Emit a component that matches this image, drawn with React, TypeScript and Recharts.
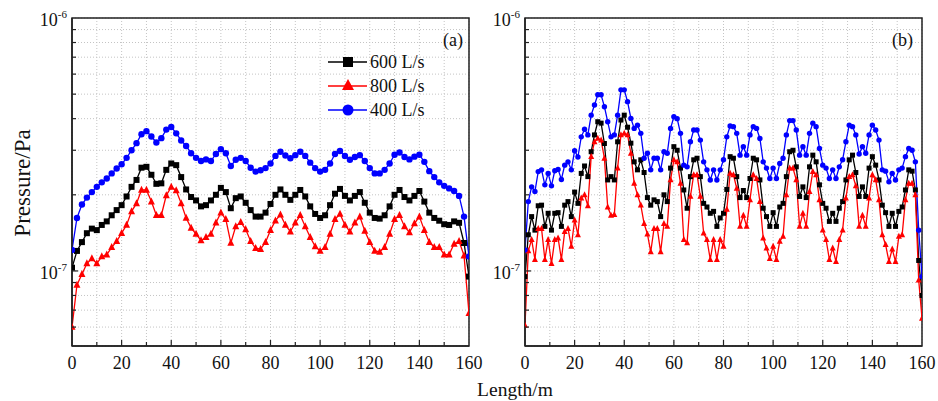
import React from 'react';
import { LineChart, Line, XAxis, YAxis, CartesianGrid, Legend, ReferenceArea } from 'recharts';

// pressure values are in units of 1e-7 Pa
const lengthA = [
  0, 2, 4, 6, 8, 10, 12, 14, 16, 18,
  20, 22, 24, 26, 28, 30, 32, 34, 36, 38,
  40, 42, 44, 46, 48, 50, 52, 54, 56, 58,
  60, 62, 64, 66, 68, 70, 72, 74, 76, 78,
  80, 82, 84, 86, 88, 90, 92, 94, 96, 98,
  100, 102, 104, 106, 108, 110, 112, 114, 116, 118,
  120, 122, 124, 126, 128, 130, 132, 134, 136, 138,
  140, 142, 144, 146, 148, 150, 152, 154, 156, 158,
  160,
];

const p400a = [
  1.21, 1.62, 1.83, 1.95, 2.05, 2.15, 2.24, 2.32, 2.43, 2.54,
  2.64, 2.80, 3.00, 3.20, 3.47, 3.57, 3.40, 3.22, 3.35, 3.62,
  3.71, 3.50, 3.28, 3.12, 2.92, 2.80, 2.72, 2.76, 2.72, 2.90,
  3.03, 2.92, 2.60, 2.75, 2.80, 2.72, 2.56, 2.47, 2.50, 2.55,
  2.66, 2.85, 2.96, 2.86, 2.79, 2.87, 2.96, 2.85, 2.68, 2.55,
  2.47, 2.51, 2.66, 2.90, 2.98, 2.85, 2.75, 2.82, 2.87, 2.72,
  2.55, 2.43, 2.43, 2.51, 2.66, 2.88, 2.94, 2.82, 2.76, 2.83,
  2.88, 2.70, 2.48, 2.35, 2.24, 2.17, 2.12, 2.07, 1.98, 1.64,
  1.14,
];

const p600a = [
  1.03, 1.20, 1.30, 1.41, 1.47, 1.45, 1.52, 1.57, 1.66, 1.74,
  1.82, 1.97, 2.15, 2.29, 2.56, 2.58, 2.40, 2.21, 2.22, 2.51,
  2.66, 2.62, 2.35, 2.10, 1.96, 1.90, 1.80, 1.82, 1.90, 2.00,
  2.13, 2.05, 1.77, 1.94, 1.97, 1.86, 1.74, 1.64, 1.64, 1.70,
  1.84, 2.00, 2.10, 2.00, 1.91, 2.00, 2.09, 1.97, 1.80, 1.68,
  1.62, 1.66, 1.82, 2.02, 2.11, 1.98, 1.90, 1.98, 2.05, 1.86,
  1.70, 1.62, 1.61, 1.66, 1.80, 2.00, 2.09, 1.96, 1.90, 1.98,
  2.07, 1.88, 1.70, 1.62, 1.58, 1.53, 1.52, 1.57, 1.55, 1.29,
  0.95,
];

const p800a = [
  0.60, 0.88, 0.97, 1.07, 1.12, 1.07, 1.14, 1.16, 1.24, 1.31,
  1.41, 1.52, 1.72, 1.85, 2.09, 2.09, 1.88, 1.66, 1.66, 1.99,
  2.15, 2.08, 1.85, 1.62, 1.48, 1.40, 1.32, 1.36, 1.40, 1.55,
  1.70, 1.60, 1.29, 1.50, 1.56, 1.46, 1.31, 1.23, 1.22, 1.30,
  1.45, 1.58, 1.67, 1.52, 1.43, 1.55, 1.66, 1.50, 1.36, 1.25,
  1.20, 1.24, 1.40, 1.60, 1.68, 1.52, 1.43, 1.55, 1.64, 1.44,
  1.30, 1.20, 1.19, 1.24, 1.40, 1.60, 1.66, 1.50, 1.42, 1.54,
  1.64, 1.45, 1.30, 1.24, 1.24, 1.16, 1.16, 1.28, 1.31, 1.15,
  0.68,
];

const lengthB = [
  0, 1.33, 2.67, 4, 5.33, 6.67, 8, 9.33, 10.67, 12, 13.33, 14.67, 16, 17.33, 18.67,
  20, 21.33, 22.67, 24, 25.33, 26.67, 28, 29.33, 30.67, 32, 33.33, 34.67, 36, 37.33, 38.67,
  40, 41.33, 42.67, 44, 45.33, 46.67, 48, 49.33, 50.67, 52, 53.33, 54.67, 56, 57.33, 58.67,
  60, 61.33, 62.67, 64, 65.33, 66.67, 68, 69.33, 70.67, 72, 73.33, 74.67, 76, 77.33, 78.67,
  80, 81.33, 82.67, 84, 85.33, 86.67, 88, 89.33, 90.67, 92, 93.33, 94.67, 96, 97.33, 98.67,
  100, 101.33, 102.67, 104, 105.33, 106.67, 108, 109.33, 110.67, 112, 113.33, 114.67, 116, 117.33, 118.67,
  120, 121.33, 122.67, 124, 125.33, 126.67, 128, 129.33, 130.67, 132, 133.33, 134.67, 136, 137.33, 138.67,
  140, 141.33, 142.67, 144, 145.33, 146.67, 148, 149.33, 150.67, 152, 153.33, 154.67, 156, 157.33, 158.67,
  160,
];

const p400b = [
  1.21, 1.88, 2.15, 2.06, 2.47, 2.51, 2.19, 2.43, 2.17, 2.49, 2.52, 2.30, 2.62, 2.70, 2.51,
  2.99, 2.82, 3.39, 3.63, 3.45, 4.13, 4.53, 4.97, 4.97, 4.46, 3.89, 3.39, 3.45, 4.13, 5.20,
  5.20, 4.67, 4.01, 3.66, 3.77, 3.50, 2.79, 2.92, 2.51, 2.79, 2.79, 2.51, 2.96, 2.92, 3.66,
  4.07, 4.00, 3.50, 2.62, 2.58, 3.24, 3.61, 3.61, 3.29, 2.70, 2.51, 2.29, 2.51, 2.29, 2.51,
  2.75, 3.39, 3.74, 3.72, 3.50, 2.87, 3.10, 2.87, 3.45, 3.72, 3.66, 3.34, 2.70, 2.55, 2.32,
  2.55, 2.32, 2.66, 2.79, 3.45, 3.93, 3.93, 3.61, 2.87, 3.10, 2.87, 3.50, 3.84, 3.72, 3.05,
  2.62, 2.55, 2.32, 2.51, 2.32, 2.58, 2.75, 3.24, 3.77, 3.72, 3.45, 2.90, 3.10, 2.92, 3.45,
  3.77, 3.61, 3.29, 2.51, 2.48, 2.25, 2.43, 2.29, 2.51, 2.55, 2.83, 3.05, 3.00, 2.70, 1.45,
  0.95,
];

const p600b = [
  0.95, 1.39, 1.64, 1.45, 1.81, 1.82, 1.50, 1.69, 1.45, 1.69, 1.70, 1.50, 1.82, 1.88, 1.64,
  2.05, 1.85, 2.43, 2.60, 2.36, 2.96, 3.45, 3.89, 3.84, 3.19, 2.29, 2.36, 2.29, 3.24, 3.95,
  4.13, 3.70, 3.20, 2.70, 2.51, 2.75, 2.45, 1.95, 1.82, 1.91, 1.88, 1.64, 2.00, 1.88, 2.55,
  3.10, 3.00, 2.55, 2.09, 1.77, 2.36, 2.75, 2.79, 2.36, 1.85, 1.79, 1.69, 1.72, 1.50, 1.62,
  1.69, 2.10, 2.83, 2.79, 2.36, 1.95, 2.08, 1.95, 2.32, 2.79, 2.75, 2.29, 1.77, 1.64, 1.50,
  1.70, 1.50, 1.79, 1.85, 2.36, 2.96, 3.00, 2.58, 1.97, 2.15, 1.95, 2.58, 2.87, 2.70, 2.19,
  1.85, 1.77, 1.57, 1.69, 1.57, 1.77, 1.88, 2.29, 2.75, 2.87, 2.45, 1.97, 2.15, 1.97, 2.55,
  2.83, 2.62, 2.29, 1.82, 1.70, 1.50, 1.69, 1.50, 1.72, 1.79, 2.09, 2.51, 2.48, 2.09, 1.10,
  0.80,
];

const p800b = [
  0.61, 1.20, 1.33, 1.11, 1.47, 1.47, 1.11, 1.33, 1.07, 1.33, 1.35, 1.11, 1.43, 1.47, 1.25,
  1.59, 1.39, 1.94, 2.00, 1.81, 2.83, 3.24, 3.34, 3.29, 2.79, 1.79, 1.66, 1.67, 2.55, 3.45,
  3.50, 3.45, 2.92, 2.22, 2.00, 1.82, 1.54, 1.40, 1.19, 1.47, 1.47, 1.19, 1.54, 1.50, 2.29,
  2.75, 2.70, 2.22, 1.33, 1.29, 1.97, 2.40, 2.40, 1.97, 1.41, 1.33, 1.11, 1.33, 1.11, 1.33,
  1.25, 1.75, 2.43, 2.40, 2.12, 1.50, 1.66, 1.50, 1.91, 2.40, 2.32, 1.88, 1.35, 1.23, 1.12,
  1.25, 1.11, 1.31, 1.37, 2.00, 2.55, 2.55, 2.29, 1.50, 1.69, 1.50, 2.06, 2.47, 2.40, 1.91,
  1.45, 1.33, 1.11, 1.23, 1.09, 1.33, 1.45, 1.94, 2.36, 2.40, 2.17, 1.50, 1.66, 1.50, 1.94,
  2.40, 2.29, 1.91, 1.39, 1.27, 1.09, 1.22, 1.09, 1.37, 1.39, 1.91, 2.22, 2.22, 2.00, 0.92,
  0.65,
];

const xTicks = [0, 10, 20, 30, 40, 50, 60, 70, 80, 90, 100, 110, 120, 130, 140, 150, 160];
const yTicks = [0.6, 0.7, 0.8, 0.9, 1, 2, 3, 4, 5, 6, 7, 8, 9, 10];
const Y_MIN = 0.505;
const Y_MAX = 10;

const FONT = '"Liberation Serif", "Times New Roman", Times, serif';
const BLACK = '#000000';
const RED = '#ff0000';
const BLUE = '#0000ff';

const rowsA = lengthA.map((x, i) => ({ x, p600: p600a[i], p800: p800a[i], p400: p400a[i] }));
const rowsB = lengthB.map((x, i) => ({ x, p600: p600b[i], p800: p800b[i], p400: p400b[i] }));

const XTick = (props: any) => {
  const { x, y, payload } = props;
  const v = payload.value;
  const major = v % 20 === 0;
  return (
    <g>
      {v > 0 && v < 160 && (
        <line x1={x} x2={x} y1={y} y2={y - (major ? 6 : 4)} stroke="#222" strokeWidth={1.2} />
      )}
      {major && (
        <text x={x} y={y + 23} textAnchor="middle" fontFamily={FONT} fontSize={18} fill="#111">
          {v}
        </text>
      )}
    </g>
  );
};

const YTick = (props: any) => {
  const { x, y, payload } = props;
  const v = payload.value;
  const major = v === 1 || v === 10;
  return (
    <g>
      {v !== 10 && (
        <line x1={x} x2={x + (major ? 6 : 4)} y1={y} y2={y} stroke="#222" strokeWidth={1.2} />
      )}
      {major && (
        <text x={x - 5} y={y + 8} textAnchor="end" fontFamily={FONT} fontSize={18} fill="#111">
          10
          <tspan dy={-8} fontSize={11}>
            {v === 1 ? '-7' : '-6'}
          </tspan>
        </text>
      )}
    </g>
  );
};

const squareDot = (s: number) => (p: any) => {
  if (p.cx == null || p.cy == null) return <g key={`s${p.index}`} />;
  return <rect key={`s${p.index}`} x={p.cx - s / 2} y={p.cy - s / 2} width={s} height={s} fill={BLACK} />;
};

const triDot = (s: number) => (p: any) => {
  if (p.cx == null || p.cy == null) return <g key={`t${p.index}`} />;
  const pts = `${p.cx},${p.cy - s * 0.6} ${p.cx - s / 2},${p.cy + s * 0.4} ${p.cx + s / 2},${p.cy + s * 0.4}`;
  return <polygon key={`t${p.index}`} points={pts} fill={RED} />;
};

const circleDot = (r: number) => (p: any) => {
  if (p.cx == null || p.cy == null) return <g key={`c${p.index}`} />;
  return <circle key={`c${p.index}`} cx={p.cx} cy={p.cy} r={r} fill={BLUE} />;
};

const legendItems = [
  { label: '600 L/s', color: BLACK, kind: 'square' },
  { label: '800 L/s', color: RED, kind: 'tri' },
  { label: '400 L/s', color: BLUE, kind: 'circle' },
];

const renderLegend = () => (
  <svg width={110} height={72}>
    {legendItems.map((it, i) => {
      const cy = 12 + i * 24;
      const cx = 22;
      return (
        <g key={it.label}>
          <line x1={2} x2={41} y1={cy} y2={cy} stroke={it.color} strokeWidth={1.4} />
          {it.kind === 'square' && <rect x={cx - 5} y={cy - 5} width={10} height={10} fill={it.color} />}
          {it.kind === 'tri' && (
            <polygon points={`${cx},${cy - 7} ${cx - 6},${cy + 4} ${cx + 6},${cy + 4}`} fill={it.color} />
          )}
          {it.kind === 'circle' && <circle cx={cx} cy={cy} r={5.5} fill={it.color} />}
          <text x={44} y={cy + 6} fontFamily={FONT} fontSize={18} fill="#111">
            {it.label}
          </text>
        </g>
      );
    })}
  </svg>
);

interface PanelProps {
  rows: any[];
  width: number;
  margin: { top: number; right: number; bottom: number; left: number };
  yWidth: number;
  sq: number;
  tri: number;
  rad: number;
  withLegend?: boolean;
}

const Panel: React.FC<PanelProps> = ({ rows, width, margin, yWidth, sq, tri, rad, withLegend }) => (
  <LineChart width={width} height={401} data={rows} margin={margin} style={{ overflow: 'visible' }}>
    <CartesianGrid stroke="#c4c4c4" strokeDasharray="1 2" />
    <XAxis
      dataKey="x"
      type="number"
      domain={[0, 160]}
      ticks={xTicks}
      interval={0}
      tickSize={0}
      tickMargin={0}
      tick={<XTick />}
      axisLine={{ stroke: '#222', strokeWidth: 1.5 }}
      height={30}
      allowDataOverflow
    />
    <YAxis
      type="number"
      scale="log"
      domain={[Y_MIN, Y_MAX]}
      ticks={yTicks}
      interval={0}
      tickSize={0}
      tickMargin={0}
      tick={<YTick />}
      axisLine={{ stroke: '#222', strokeWidth: 1.5 }}
      width={yWidth}
      allowDataOverflow
    />
    <ReferenceArea x1={0} x2={160} y1={Y_MIN} y2={Y_MAX} fill="none" fillOpacity={0} stroke="#222" strokeWidth={1.5} />
    {withLegend && (
      <Legend
        layout="vertical"
        align="center"
        verticalAlign="middle"
        content={renderLegend}
        wrapperStyle={{ position: 'absolute', left: 326, top: 50, width: 110, height: 72 }}
      />
    )}
    <Line
      dataKey="p600"
      name="600 L/s"
      type="linear"
      stroke={BLACK}
      strokeWidth={1.3}
      dot={squareDot(sq)}
      activeDot={false}
      isAnimationActive={false}
    />
    <Line
      dataKey="p800"
      name="800 L/s"
      type="linear"
      stroke={RED}
      strokeWidth={1.3}
      dot={triDot(tri)}
      activeDot={false}
      isAnimationActive={false}
    />
    <Line
      dataKey="p400"
      name="400 L/s"
      type="linear"
      stroke={BLUE}
      strokeWidth={1.3}
      dot={circleDot(rad)}
      activeDot={false}
      isAnimationActive={false}
    />
  </LineChart>
);

const textStyle: React.CSSProperties = {
  position: 'absolute',
  fontFamily: FONT,
  color: '#111',
  whiteSpace: 'nowrap',
  lineHeight: 1,
};

export default function App() {
  return (
    <div style={{ position: 'relative', width: 938, height: 401, background: '#fff', overflow: 'hidden' }}>
      <style>{'body{margin:0} .recharts-surface{overflow:visible}'}</style>
      <div style={{ position: 'absolute', left: 0, top: 0 }}>
        <Panel
          rows={rowsA}
          width={480}
          margin={{ top: 18, right: 11, bottom: 25, left: 10 }}
          yWidth={62}
          sq={6}
          tri={7}
          rad={3.2}
          withLegend
        />
      </div>
      <div style={{ position: 'absolute', left: 480, top: 0 }}>
        <Panel
          rows={rowsB}
          width={458}
          margin={{ top: 18, right: 16, bottom: 25, left: 5 }}
          yWidth={40}
          sq={5}
          tri={6}
          rad={2.7}
        />
      </div>
      <div style={{ ...textStyle, left: 443, top: 31, fontSize: 18 }}>(a)</div>
      <div style={{ ...textStyle, left: 892, top: 31, fontSize: 18 }}>(b)</div>
      <div style={{ ...textStyle, left: 515, top: 380, fontSize: 19.5, transform: 'translateX(-50%)' }}>Length/m</div>
      <div
        style={{
          ...textStyle,
          left: 22,
          top: 183,
          fontSize: 23,
          transform: 'translate(-50%, -50%) rotate(-90deg)',
        }}
      >
        Pressure/Pa
      </div>
    </div>
  );
}
